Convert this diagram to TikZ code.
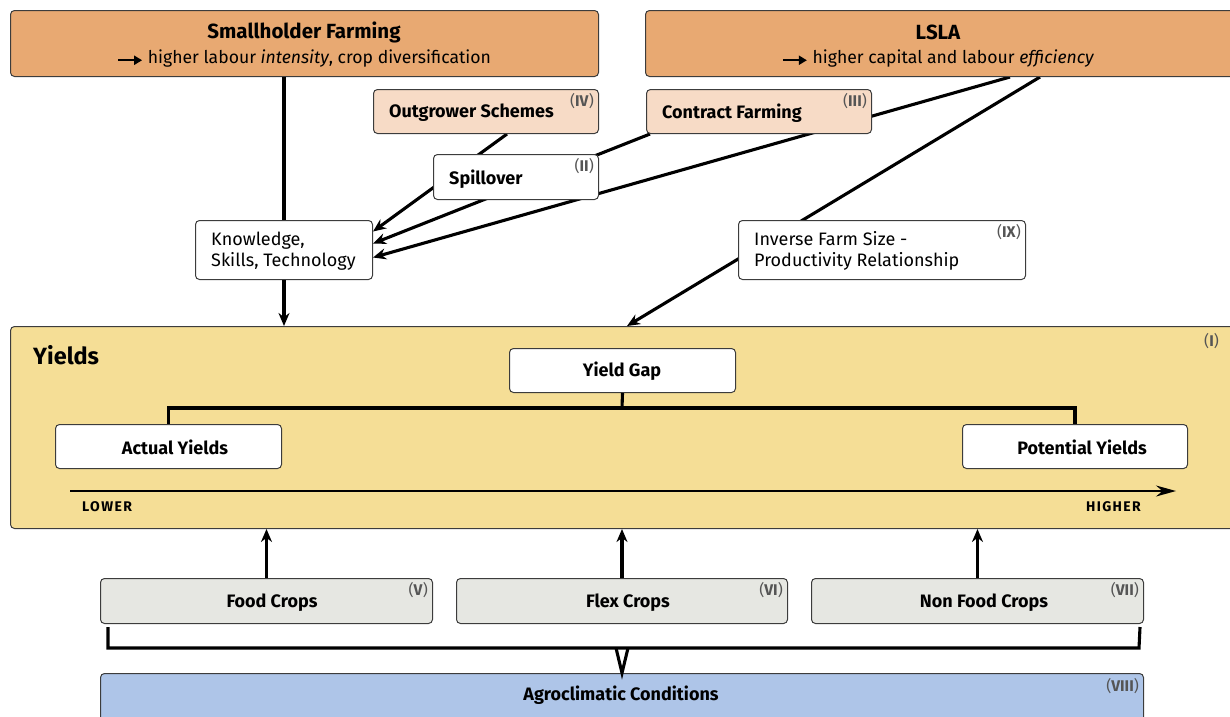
\documentclass[tikz,border=0pt]{standalone}
\usepackage{fontspec}
\setmainfont{Fira Sans}
\usetikzlibrary{arrows.meta,calc,backgrounds}
\definecolor{orangebox}{HTML}{E8A972}
\definecolor{peachbox}{HTML}{F7DBC6}
\definecolor{yieldbox}{HTML}{F5DE96}
\definecolor{cropbox}{HTML}{E6E7E2}
\definecolor{bluebox}{HTML}{AEC5E8}
\definecolor{bordergray}{HTML}{3C3C3C}
\definecolor{numgray}{HTML}{555555}
\newcommand{\numlab}[1]{(\textbf{#1})}
\newcommand{\boldarrow}{\tikz[baseline=-0.35ex]\draw[line width=2.2pt,-{Triangle[length=8pt,width=9pt]}] (0pt,0pt) -- (24pt,0pt);}
\begin{document}
\begin{tikzpicture}[x=1pt,y=-1pt,
  box/.style={draw=bordergray, line width=1pt, rounded corners=4pt, inner sep=0pt, anchor=north west},
  titletext/.style={inner sep=0pt, font=\fontsize{20.5}{23}\selectfont\bfseries},
  subtext/.style={inner sep=0pt, font=\fontsize{17.6}{20}\selectfont},
  lbl/.style={inner sep=0pt, font=\fontsize{18}{20}\selectfont\bfseries},
  plain/.style={inner sep=0pt, align=left, font=\fontsize{18}{21}\selectfont},
  num/.style={inner sep=0pt, text=numgray, font=\fontsize{15.5}{17}\selectfont},
  scalelbl/.style={inner sep=0pt, font=\fontsize{14}{15}\selectfont\bfseries\addfontfeature{LetterSpace=10}},
  conn/.style={line width=3.1pt},
  arr/.style={conn, -{Stealth[length=13pt,width=11pt]}}
]
\useasboundingbox (0,0) rectangle (1230,716);

% top boxes
\node[box, fill=orangebox, minimum width=588pt, minimum height=66pt] (sf) at (10,10) {};
\node[titletext] (sft) at (304,32) {Smallholder Farming};
\node[subtext] (sfs) at (304,58.5) {\boldarrow\ higher labour \textit{intensity}, crop diversification};

\node[box, fill=orangebox, minimum width=590pt, minimum height=66pt] (lsla) at (645,10) {};
\node[titletext] (lslat) at (938,32) {LSLA};
\node[subtext] (lslas) at (938,58.5) {\boldarrow\ higher capital and labour \textit{efficiency}};

% middle boxes
\node[box, fill=peachbox, minimum width=225pt, minimum height=44pt] (og) at (373,89) {};
\node[lbl, anchor=west] (ogt) at (389,113) {Outgrower Schemes};
\node[num, anchor=north east] (ogn) at (594,93) {\numlab{IV}};

\node[box, fill=peachbox, minimum width=225pt, minimum height=44pt] (cf) at (646,89) {};
\node[lbl, anchor=west] (cft) at (662,113) {Contract Farming};
\node[num, anchor=north east] (cfn) at (867,93) {\numlab{III}};

\node[box, fill=white, minimum width=165pt, minimum height=45pt] (sp) at (433,154) {};
\node[lbl, anchor=west] (spt) at (449,179) {Spillover};
\node[num, anchor=north east] (spn) at (594,158) {\numlab{II}};

\node[box, fill=white, minimum width=177pt, minimum height=59pt] (kst) at (195,220) {};
\node[plain, anchor=west] (kstt) at (211,251) {Knowledge,\\Skills, Technology};

\node[box, fill=white, minimum width=287pt, minimum height=59pt] (ifs) at (738,220) {};
\node[plain, anchor=west] (ifst) at (754,251) {Inverse Farm Size -\\Productivity Relationship};
\node[num, anchor=north east] (ifsn) at (1021,224) {\numlab{IX}};

% yields box
\node[box, fill=yieldbox, minimum width=1225pt, minimum height=202pt] (yl) at (10,326) {};
\node[inner sep=0pt, anchor=west, font=\fontsize{23.5}{26}\selectfont\bfseries] (ylt) at (33,355) {Yields};
\node[num, anchor=north east] (yln) at (1219,333) {\numlab{I}};

\node[box, fill=white, minimum width=226pt, minimum height=44pt] (yg) at (509,348) {};
\node[lbl] (ygt) at (622,371.5) {Yield Gap};
\node[box, fill=white, minimum width=226pt, minimum height=44pt] (ay) at (55,424) {};
\node[lbl] (ayt) at (175,447) {Actual Yields};
\node[box, fill=white, minimum width=225pt, minimum height=44pt] (py) at (962,424) {};
\node[lbl] (pyt) at (1082,447) {Potential Yields};

\coordinate (bm) at (622,408);
\draw[conn] (yg.south) -- (bm);
\draw[conn] (ay.north) |- (bm) -| (py.north);

\coordinate (lo) at (70,491);
\coordinate (hi) at (1176,491);
\draw[line width=1.6pt, -{Stealth[length=20pt,width=11pt]}] (lo) -- (hi);
\node[scalelbl, anchor=west] (low) at (82,507) {LOWER};
\node[scalelbl, anchor=east] (high) at (1141,507) {HIGHER};

% crops
\node[box, fill=cropbox, minimum width=332pt, minimum height=45pt] (fc) at (100,578) {};
\node[lbl] (fct) at (272,602.5) {Food Crops};
\node[num, anchor=north east] (fcn) at (428,582) {\numlab{V}};
\node[box, fill=cropbox, minimum width=331pt, minimum height=45pt] (xc) at (456,578) {};
\node[lbl] (xct) at (628,602.5) {Flex Crops};
\node[num, anchor=north east] (xcn) at (783,582) {\numlab{VI}};
\node[box, fill=cropbox, minimum width=332pt, minimum height=45pt] (nc) at (811,578) {};
\node[lbl] (nct) at (984,602.5) {Non Food Crops};
\node[num, anchor=north east] (ncn) at (1139,582) {\numlab{VII}};

\draw[arr] (fc.north) -- (fc.north |- yl.south);
\draw[arr] (xc.north) -- (xc.north |- yl.south);
\draw[arr] (nc.north) -- (nc.north |- yl.south);

% agroclimatic
\node[box, fill=bluebox, minimum width=1043pt, minimum height=50pt] (ac) at (100,673) {};
\node[lbl] (act) at (621,695.5) {Agroclimatic Conditions};
\node[num, anchor=north east] (acn) at (1139,678) {\numlab{VIII}};

\coordinate (bl) at (108,627);
\coordinate (br) at (1140,627);
\coordinate (vl) at (616,648);
\coordinate (vr) at (628,648);
\draw[conn, line join=miter] (bl) -- (108,648) -- (1139,648) -- (br);
\draw[conn, line join=miter] (vl) -- (ac.north -| bm) -- (vr);

% verticals from smallholder
\draw[conn] (sf.south -| kst.north) -- (kst.north);
\draw[arr] (kst.south) -- (kst.south |- yl.north);

% connectors behind boxes
\begin{pgfonlayer}{background}
\draw[arr] ($(og.south west)+(134,0)$) -- ($(kst.east)+(0,-18.5)$);
\draw[arr] ($(cf.south west)+(4,0)$) -- ($(kst.east)+(0,-6.5)$);
\draw[arr] ($(lsla.south west)+(365,0)$) -- ($(kst.east)+(0,7.5)$);
\draw[arr] ($(lsla.south west)+(395,0)$) -- (yl.north -| 627,0);
\end{pgfonlayer}
\end{tikzpicture}
\end{document}
